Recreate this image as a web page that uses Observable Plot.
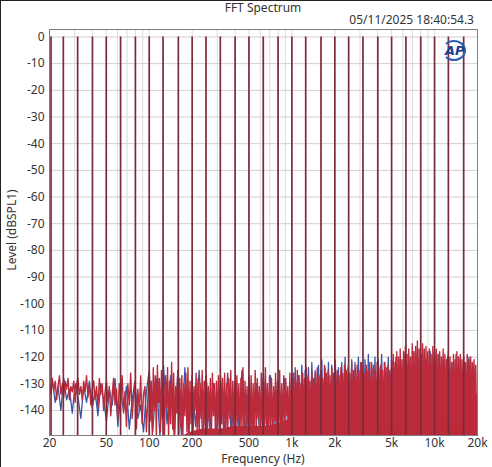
<!DOCTYPE html>
<html><head><meta charset="utf-8">
<script src="https://cdn.jsdelivr.net/npm/d3@7"></script>
<script src="https://cdn.jsdelivr.net/npm/@observablehq/plot@0.6"></script>
<style>
html,body{margin:0;padding:0;background:#fff;}
#wrap{position:relative;width:492px;height:467px;overflow:hidden;font-family:"Noto Sans",sans-serif;color:#333;background:#fff;}
#chart{position:absolute;left:0;top:0;}
.t{position:absolute;font-size:12px;line-height:14px;white-space:nowrap;color:#333;}
#title{left:0;width:526px;top:1px;text-align:center;}
#stamp{right:18px;top:13px;}
#xlab{left:0;width:526px;top:452px;text-align:center;}
#ylab{left:12px;top:230px;transform:translate(-50%,-50%) rotate(-90deg);}
#logo{position:absolute;left:442px;top:40px;width:20px;height:17px;border:2px solid #2f5db0;border-left-color:transparent;border-radius:50%;font:italic bold 13px "DejaVu Sans",sans-serif;color:#1d3f94;line-height:17px;text-indent:1px;}
#bt{position:absolute;left:0;top:0;width:492px;height:1px;background:#222;}
#bl{position:absolute;left:0;top:0;width:1px;height:467px;background:#222;}
</style></head><body>
<div id="wrap">
<div id="chart"></div>
<div class="t" id="title">FFT Spectrum</div>
<div class="t" id="stamp">05/11/2025 18:40:54.3</div>
<div class="t" id="xlab">Frequency (Hz)</div>
<div class="t" id="ylab">Level (dBSPL1)</div>
<div id="logo">AP</div>
<div id="bt"></div><div id="bl"></div>
</div>
<script>
// Multitone frequencies (Hz), each tone at 0 dB
const toneFreqs = [20.5, 25, 31.5, 40, 50, 63, 80, 100, 125, 160, 200, 250, 315, 400, 500, 630, 800, 1000, 1250, 1600, 2000, 2500, 3150, 4000, 5000, 6300, 8000, 10000, 12500, 16000];
const toneLevel = 0;

// Axis ticks
const xTickVals = [20, 50, 100, 200, 500, 1000, 2000, 5000, 10000, 20000];
const xTickLabels = ["20", "50", "100", "200", "500", "1k", "2k", "5k", "10k", "20k"];
const yTickVals = [0, -10, -20, -30, -40, -50, -60, -70, -80, -90, -100, -110, -120, -130, -140];
const gridFreqs = [20,30,40,50,60,70,80,90,100,200,300,400,500,600,700,800,900,1000,2000,3000,4000,5000,6000,7000,8000,9000,10000,20000];

// Solid part of the red noise floor (top edge, dB), read every 0.1 decade from 20 Hz to 20 kHz (-150 = none)
const redBodyTop = [-150,-150,-150,-150,-150,-150,-150,-150,-150,-150,-148,-147,-147,-146,-146,-146,-145,-143,-141,-140,-139,-138,-137,-136,-134,-133,-132,-132,-132,-133,-134];
const bodyBottom = -150;

// Noise spikes, per band (band edges in Hz), levels in dB
const bandEdges = [20, 100, 1000, 5000, 20000];

const redA = [-130,-134,-128,-133,-129,-136,-131,-127,-134,-130,
-135,-129,-132,-128,-136,-131,-133,-129,-137,-130,
-128,-134,-131,-136,-129,-133,-127,-135,-130,-138,
-132,-129,-136,-131,-139,-128,-134,-130,-140,-133,
-129,-137,-131,-142,-134,-128,-138,-132,-144,-130,
-136,-127,-141,-133,-146,-130,-138,-126,-143,-135,
-129,-147,-132,-140,-127,-145,-134,-131,-148,-136];
const redB = [-126,-144,-129,-149,-124,-140,-127,-150,-123,-137,
-128,-148,-125,-143,-130,-150,-127,-139,-124,-150,
-129,-145,-122,-147,-126,-150,-131,-141,-125,-150,
-128,-146,-127,-150,-130,-142,-126,-148,-124,-150,
-129,-145,-127,-150,-131,-140,-126,-149,-128,-150,
-130,-143,-125,-150,-129,-147,-127,-150,-131,-144,
-128,-150,-126,-142,-130,-150,-129,-146,-127,-150,
-131,-145,-128,-150,-126,-148,-130,-150,-128,-143,
-125,-150,-129,-146,-131,-150,-127,-144,-130,-150,
-128,-147,-124,-150,-129,-145,-131,-150,-127,-149,
-127,-150,-130,-146,-125,-150,-128,-143,-131,-150,
-126,-148,-129,-150,-124,-145,-130,-150,-127,-147,
-128,-150,-131,-144,-126,-150,-129,-148,-125,-150,
-130,-146,-127,-150,-128,-142,-131,-150,-126,-149];
const redC = [-128,-147,-126,-150,-129,-143,-125,-150,-127,-148,
-130,-150,-126,-145,-128,-150,-124,-149,-127,-150,
-129,-144,-125,-150,-128,-147,-126,-150,-124,-146,
-127,-150,-125,-148,-128,-150,-123,-145,-126,-150,
-125,-149,-127,-150,-124,-147,-126,-150,-123,-144,
-125,-150,-127,-148,-124,-150,-126,-146,-123,-150,
-125,-149,-124,-150,-126,-145,-122,-150,-125,-148,
-124,-150,-123,-147,-125,-150,-122,-149,-124,-150,
-126,-146,-123,-150,-125,-148,-122,-150,-124,-145,
-123,-150,-125,-149,-122,-150,-124,-147,-123,-150,
-125,-148,-122,-150,-124,-146,-123,-150,-125,-149];
const redD = [-121,-150,-119,-146,-122,-150,-118,-149,-120,-150,
-117,-147,-121,-150,-118,-150,-116,-148,-119,-150,
-117,-145,-120,-150,-115,-149,-118,-150,-116,-147,
-114,-150,-117,-148,-119,-150,-115,-146,-117,-150,
-116,-149,-118,-150,-117,-147,-119,-150,-116,-148,
-118,-150,-117,-146,-119,-150,-118,-149,-120,-150,
-117,-147,-119,-150,-121,-148,-118,-150,-120,-146,
-122,-150,-119,-149,-121,-150,-118,-147,-120,-150,
-119,-148,-121,-150,-120,-146,-122,-150,-119,-149,
-121,-150,-120,-147,-122,-150,-121,-148,-123,-150];

const blueA = [-133,-129,-137,-131,-140,-128,-136,-132,-141,-130,
-135,-143,-131,-137,-129,-139,-133,-142,-130,-136,
-144,-132,-138,-128,-146,-134,-140,-131,-147,-136,
-129,-143,-138,-148,-133];
const blueB = [-125,-148,-128,-150,-123,-145,-127,-150,-126,-149,
-124,-150,-129,-146,-125,-150,-128,-148,-130,-150,
-127,-149,-126,-150,-129,-147,-125,-150,-128,-149,
-130,-150,-126,-148,-127,-150,-129,-146,-128,-150];
const blueC = [-126,-148,-124,-150,-127,-146,-123,-150,-125,-149,
-124,-150,-122,-147,-125,-150,-123,-148,-121,-150,
-124,-146,-122,-150,-123,-149,-121,-150,-124,-147,
-122,-150,-120,-148,-123,-150,-121,-149,-122,-150,
-120,-147,-122,-150,-121,-148,-119,-150,-122,-149,
-120,-150,-121,-146,-119,-150,-122,-148,-120,-150];
const blueD = [-122,-150,-120,-148,-121,-150,-119,-147,-122,-150,
-118,-149,-120,-150,-119,-146,-121,-150,-118,-148,
-120,-150,-119,-147,-121,-150,-120,-149,-122,-150,
-119,-148,-121,-150,-122,-147,-120,-150,-123,-150];

// place each band's readings at evenly log-spaced positions inside the band
function build(segs) {
  const out = [];
  segs.forEach((vals, k) => {
    const f0 = bandEdges[k], f1 = bandEdges[k + 1];
    vals.forEach((db, i) => out.push({f: f0 * Math.pow(f1 / f0, i / vals.length), db}));
  });
  return out;
}
const redData = build([redA, redB, redC, redD]);
const blueData = build([blueA, blueB, blueC, blueD]);
const redBody = redBodyTop.map((t, i) => ({f: 20 * Math.pow(1000, i / (redBodyTop.length - 1)), top: t, bottom: bodyBottom}));

const RED = "#bb2b3b", BLUE = "#3b55a8";

const chart = Plot.plot({
  width: 492, height: 467,
  marginLeft: 49, marginRight: 15, marginTop: 29, marginBottom: 32,
  style: {fontFamily: '"Noto Sans", sans-serif', fontSize: "12px", color: "#333", background: "transparent"},
  x: {type: "log", domain: [20, 20000], label: null, axis: null},
  y: {domain: [-149.4, 2.8], label: null, axis: null},
  marks: [
    Plot.gridX(gridFreqs, {stroke: "#dcdcdc", strokeOpacity: 1}),
    Plot.gridY(yTickVals, {stroke: "#d0d0d0", strokeOpacity: 1}),
    Plot.line(blueData, {x: "f", y: "db", stroke: BLUE, strokeWidth: 1.3, clip: true}),
    Plot.areaY(redBody, {x: "f", y1: "bottom", y2: "top", fill: RED, curve: "monotone-x", clip: true}),
    Plot.line(redData, {x: "f", y: "db", stroke: RED, strokeWidth: 1.4, clip: true}),
    Plot.ruleX(toneFreqs, {y1: -150, y2: toneLevel, stroke: "#7b2a3a", strokeWidth: 1.7, clip: true}),
    Plot.text(xTickVals, {x: d => d, text: (d, i) => xTickLabels[i], frameAnchor: "bottom", dy: 11, fill: "#333"}),
    Plot.text(yTickVals, {y: d => d, text: d => String(d), frameAnchor: "left", textAnchor: "end", dx: -5, fill: "#333"}),
    Plot.frame({stroke: "#7f7f7f"})
  ]
});
document.getElementById("chart").appendChild(chart);
</script>
</body></html>
